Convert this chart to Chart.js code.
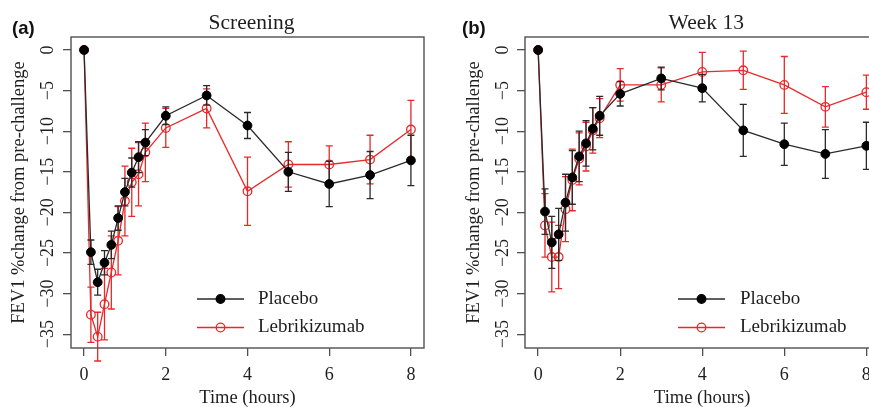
<!DOCTYPE html>
<html><head><meta charset="utf-8">
<script src="https://cdn.jsdelivr.net/npm/chart.js@4.4.1/dist/chart.umd.min.js"></script>
<style>
html,body{margin:0;padding:0;background:#fff;overflow:hidden;width:869px;height:407px;position:relative}
canvas{position:absolute;top:0}
#ca{left:0}
#cb{left:440px}
</style></head><body>
<canvas id="ca" width="440" height="407"></canvas>
<canvas id="cb" width="450" height="407"></canvas>
<script>
// ---- data ----
const hours = [0, 0.167, 0.333, 0.5, 0.667, 0.833, 1, 1.167, 1.333, 1.5, 2, 3, 4, 5, 6, 7, 8];
const xTicks = [0, 2, 4, 6, 8];
const yTicks = [0, -5, -10, -15, -20, -25, -30, -35];
const seriesNames = ['Placebo', 'Lebrikizumab'];
const panelTitles = ['Screening', 'Week 13'];
const panelLetters = ['(a)', '(b)'];
const xTitle = 'Time (hours)';
const yTitle = 'FEV1 %change from pre-challenge';

const screeningPlacebo   = [0, -24.9, -28.6, -26.2, -24.0, -20.7, -17.5, -15.1, -13.2, -11.4, -8.1, -5.6, -9.3, -15.0, -16.5, -15.4, -13.6];
const screeningPlaceboSE = [0, 1.5, 1.6, 1.5, 1.7, 1.5, 1.7, 1.8, 1.9, 1.6, 1.1, 1.2, 1.6, 2.4, 2.8, 2.9, 3.1];
const screeningLebri     = [0, -32.6, -35.3, -31.3, -27.4, -23.5, -18.6, -16.3, -15.3, -12.6, -9.6, -7.2, -17.4, -14.1, -14.1, -13.5, -9.8];
const screeningLebriSE   = [0, 3.4, 3.0, 4.4, 4.5, 4.2, 4.3, 4.2, 3.9, 3.6, 2.4, 2.4, 4.2, 2.8, 2.3, 3.0, 3.6];

const week13Placebo   = [0, -19.9, -23.7, -22.7, -18.8, -15.7, -13.1, -11.5, -9.7, -8.1, -5.4, -3.5, -4.7, -9.9, -11.6, -12.8, -11.8];
const week13PlaceboSE = [0, 2.8, 3.2, 3.2, 3.5, 3.3, 3.1, 2.8, 2.6, 2.4, 1.5, 1.4, 1.7, 3.2, 2.6, 3.0, 2.9];
const week13Lebri     = [0, -21.6, -25.5, -25.5, -19.6, -16.0, -13.4, -11.9, -9.9, -8.4, -4.3, -4.3, -2.7, -2.5, -4.3, -7.0, -5.2];
const week13LebriSE   = [0, 3.9, 4.3, 3.9, 4.0, 3.8, 3.2, 3.0, 2.8, 2.4, 2.0, 2.1, 2.4, 2.35, 3.5, 2.5, 2.1];

// ---- styling ----
const SERIF = "'Liberation Serif', 'Times New Roman', serif";
const TEXT = '#1e1e1e';
const AXIS = '#505050';
const BLACK_LINE = '#2a2a2a';
const RED = '#e8282a';

function pts(vals) { return hours.map((h, i) => ({x: h, y: vals[i]})); }

const errPlugin = {
  id: 'errbars',
  beforeDatasetDraw(chart, args) {
    const ds = chart.data.datasets[args.index];
    if (!ds.errors) return;
    const ys = chart.scales.y;
    const ctx = chart.ctx;
    ctx.save();
    ctx.strokeStyle = ds.borderColor;
    ctx.lineWidth = 1.3;
    args.meta.data.forEach((pt, i) => {
      const e = ds.errors[i];
      if (!e) return;
      const v = ds.data[i].y;
      const x = pt.x;
      const y1 = ys.getPixelForValue(v + e), y2 = ys.getPixelForValue(v - e);
      ctx.beginPath();
      ctx.moveTo(x, y1); ctx.lineTo(x, y2);
      ctx.moveTo(x - 3.5, y1); ctx.lineTo(x + 3.5, y1);
      ctx.moveTo(x - 3.5, y2); ctx.lineTo(x + 3.5, y2);
      ctx.stroke();
    });
    ctx.restore();
  }
};

const decoPlugin = {
  id: 'deco',
  afterDraw(chart, args, o) {
    const ctx = chart.ctx;
    const ca = chart.chartArea;
    ctx.save();
    // box
    ctx.strokeStyle = AXIS;
    ctx.lineWidth = 1.4;
    ctx.strokeRect(ca.left, ca.top, ca.right - ca.left, ca.bottom - ca.top);
    // rotated y tick labels
    const ys = chart.scales.y;
    ctx.fillStyle = TEXT;
    ctx.font = '18px ' + SERIF;
    ctx.textAlign = 'center';
    ctx.textBaseline = 'middle';
    yTicks.forEach(v => {
      const py = ys.getPixelForValue(v);
      ctx.save();
      ctx.translate(o.yLabelX, py);
      ctx.rotate(-Math.PI / 2);
      ctx.fillText(String(v).replace('-', '\u2212'), 0, 0);
      ctx.restore();
    });
    // title
    ctx.font = '21.5px ' + SERIF;
    ctx.textBaseline = 'alphabetic';
    ctx.fillText(o.title, (ca.left + ca.right) / 2 + 4, 28.5);
    // panel letter
    ctx.font = "bold 18.5px 'Liberation Sans', Arial, sans-serif";
    ctx.textAlign = 'left';
    ctx.fillStyle = '#111';
    ctx.fillText(o.letter, o.letterX, 33.5);
    // legend
    const rows = [
      {name: seriesNames[0], color: BLACK_LINE, fill: '#000', stroke: '#000'},
      {name: seriesNames[1], color: RED, fill: null, stroke: RED}
    ];
    rows.forEach((r, i) => {
      const y = o.legendY[i];
      ctx.strokeStyle = r.color;
      ctx.lineWidth = 1.3;
      ctx.beginPath();
      ctx.moveTo(o.legendX1, y); ctx.lineTo(o.legendX2, y);
      ctx.stroke();
      const mx = (o.legendX1 + o.legendX2) / 2;
      ctx.beginPath();
      ctx.arc(mx, y, 4.3, 0, Math.PI * 2);
      if (r.fill) { ctx.fillStyle = r.fill; ctx.fill(); }
      ctx.strokeStyle = r.stroke; ctx.lineWidth = 1.3; ctx.stroke();
      ctx.fillStyle = TEXT;
      ctx.font = '19px ' + SERIF;
      ctx.textAlign = 'left';
      ctx.textBaseline = 'middle';
      ctx.fillText(r.name, o.legendTextX, y);
    });
    ctx.restore();
  }
};

function makeChart(id, placebo, placeboSE, lebri, lebriSE, cfg) {
  return new Chart(document.getElementById(id), {
    type: 'line',
    data: {
      datasets: [
        {
          label: seriesNames[0], data: pts(placebo), errors: placeboSE,
          borderColor: BLACK_LINE, borderWidth: 1.3,
          pointRadius: 4.4, pointBackgroundColor: '#000', pointBorderColor: '#000', pointBorderWidth: 1,
          tension: 0
        },
        {
          label: seriesNames[1], data: pts(lebri), errors: lebriSE,
          borderColor: RED, borderWidth: 1.3,
          pointRadius: 4.3, pointBackgroundColor: 'rgba(0,0,0,0)', pointBorderColor: RED, pointBorderWidth: 1.3,
          tension: 0
        }
      ]
    },
    options: {
      responsive: false,
      animation: false,
      devicePixelRatio: 1,
      layout: {padding: {top: 37, right: cfg.padRight, left: 0, bottom: 0}},
      plugins: {
        legend: {display: false},
        tooltip: {enabled: false},
        title: {display: false},
        deco: cfg.deco
      },
      scales: {
        x: {
          type: 'linear', min: -0.32, max: 8.32,
          afterBuildTicks: s => { s.ticks = xTicks.map(v => ({value: v})); },
          afterFit: s => { s.height = 59; },
          grid: {display: true, drawOnChartArea: false, drawTicks: true, tickLength: 8, color: AXIS, lineWidth: 1.3},
          border: {display: false},
          ticks: {color: TEXT, font: {family: SERIF, size: 18, lineHeight: 1.2}, padding: 8, maxRotation: 0, autoSkip: false},
          title: {display: true, text: xTitle, color: TEXT, font: {family: SERIF, size: 18.5, lineHeight: 1}, padding: {top: 0, bottom: 0}}
        },
        y: {
          type: 'linear', min: -36.7, max: 1.6,
          afterBuildTicks: s => { s.ticks = yTicks.map(v => ({value: v})); },
          afterFit: s => { s.width = cfg.yWidth; },
          grid: {display: true, drawOnChartArea: false, drawTicks: true, tickLength: 8, color: AXIS, lineWidth: 1.3},
          border: {display: false},
          ticks: {display: false},
          title: {display: true, text: yTitle, color: TEXT, font: {family: SERIF, size: 18.5, lineHeight: 1}, padding: {top: cfg.yTitlePad, bottom: 0}}
        }
      }
    },
    plugins: [errPlugin, decoPlugin]
  });
}

makeChart('ca', screeningPlacebo, screeningPlaceboSE, screeningLebri, screeningLebriSE, {
  padRight: 16, yWidth: 71, yTitlePad: 10,
  deco: {title: panelTitles[0], letter: panelLetters[0], letterX: 12, yLabelX: 48,
         legendX1: 197, legendX2: 244, legendTextX: 258, legendY: [299, 327.5]}
});
makeChart('cb', week13Placebo, week13PlaceboSE, week13Lebri, week13LebriSE, {
  padRight: 10.5, yWidth: 85, yTitlePad: 25,
  deco: {title: panelTitles[1], letter: panelLetters[1], letterX: 22, yLabelX: 63,
         legendX1: 238, legendX2: 285, legendTextX: 300, legendY: [299, 327.5]}
});
</script>
</body></html>
